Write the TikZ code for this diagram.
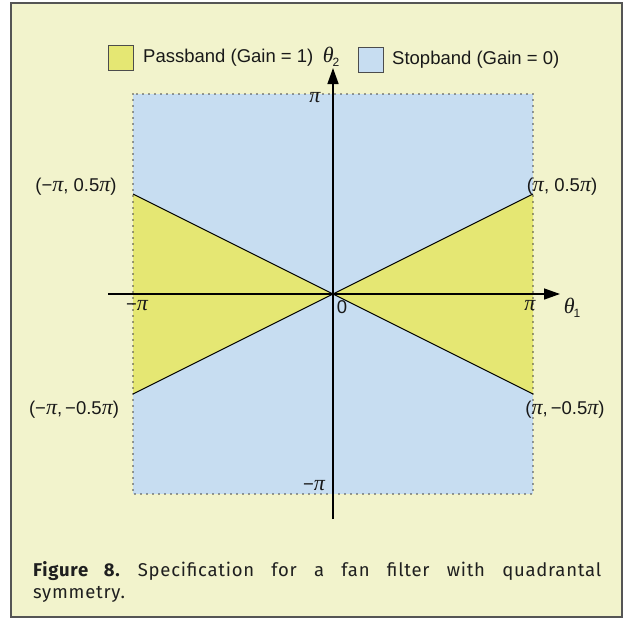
\documentclass[tikz,border=0pt]{standalone}
\usepackage{fontspec}
\setmainfont{Liberation Sans}
\newfontfamily\grk{Liberation Serif}
\newfontfamily\capfont[LetterSpace=4]{Fira Sans}
\usetikzlibrary{arrows.meta}
\definecolor{cream}{HTML}{F2F3CC}
\definecolor{passy}{HTML}{E5E773}
\definecolor{stopb}{HTML}{C7DDF1}
\definecolor{framegray}{HTML}{555555}
\newcommand{\gpi}{{\grk\itshape\fontsize{22}{20}\selectfont π}}
\newcommand{\gth}{{\grk\itshape\fontsize{22}{20}\selectfont θ}}
\tikzset{
  lbl/.style={font=\fontsize{18.5}{20}\selectfont, inner sep=0pt, text=black!90},
  axis/.style={line width=1.4pt, -{Triangle[length=16pt,width=11pt]}},
  wedge/.style={line width=1pt},
  legendbox/.style={draw=black!70, line width=1pt, minimum width=25pt, minimum height=25pt, inner sep=0pt},
}
\begin{document}
\begin{tikzpicture}[x=1pt,y=-1pt]
\useasboundingbox (0,0) rectangle (626,618);
\draw[framegray, line width=2pt, fill=cream] (11,3) rectangle (622,617);
% square region
\coordinate (O) at (333,294);
\coordinate (TL) at (133,94);
\coordinate (BR) at (533,494);
\fill[stopb] (TL) rectangle (BR);
\coordinate (LU) at (133,194);
\coordinate (LD) at (133,394);
\coordinate (RU) at (533,194);
\coordinate (RD) at (533,394);
\fill[passy] (O) -- (LU) -- (LD) -- cycle;
\fill[passy] (O) -- (RU) -- (RD) -- cycle;
\draw[black!75, line width=1.6pt, line cap=round, dash pattern=on 0pt off 6pt] (TL) rectangle (BR);
\draw[wedge] (LU) -- (RD);
\draw[wedge] (LD) -- (RU);
% axes
\coordinate (xs) at (108,294);
\coordinate (xe) at (560,294);
\coordinate (ys) at (333,519);
\coordinate (ye) at (333,68);
\draw[axis] (xs) -- (xe);
\draw[axis] (ys) -- (ye);
% axis labels
\node[lbl] (pitop) at (315,98) {\gpi};
\node[lbl] (pibot) at (314,486) {−\gpi};
\node[lbl] (pileft) at (137,306) {−\gpi};
\node[lbl] (zero) at (342,307) {0};
\node[lbl] (piright) at (530,306) {\gpi};
\node[lbl] (th1) at (572,308) {\gth\kern-1pt\raisebox{-4pt}{\fontsize{12}{12}\selectfont 1}};
% corner labels
\node[lbl] (cLU) at (76,187) {({−\gpi}, 0.5\gpi)};
\node[lbl] (cRU) at (562,187) {(\gpi, 0.5\gpi)};
\node[lbl] (cLD) at (74,410) {({−\gpi},\,−0.5\gpi)};
\node[lbl] (cRD) at (565,410) {(\gpi,\,−0.5\gpi)};
% legend
\node[legendbox, fill=passy] (pbox) at (121,58) {};
\node[lbl, anchor=west] (ptext) at (143,58) {Passband (Gain = 1)};
\node[lbl] (th2) at (331,57) {\gth\kern-1pt\raisebox{-4pt}{\fontsize{12}{12}\selectfont 2}};
\node[legendbox, fill=stopb] (sbox) at (371,60) {};
\node[lbl, anchor=west] (stext) at (392,60) {Stopband (Gain = 0)};
% caption
\node[anchor=north west, inner sep=0pt, text width=568pt, align=justify,
      font=\capfont\fontsize{18.5}{22}\selectfont, text=black!88] (cap) at (33,561)
  {\frenchspacing\textbf{Figure 8.} Specification for a fan filter with quadrantal\linebreak symmetry.};
\end{tikzpicture}
\end{document}
